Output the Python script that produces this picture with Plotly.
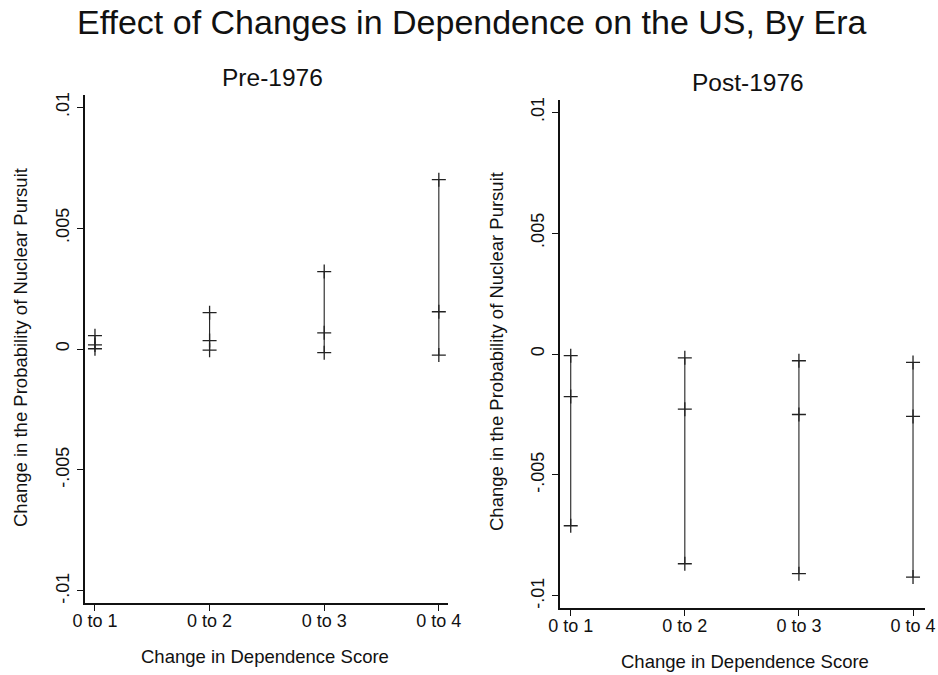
import plotly.graph_objects as go

categories = ["0 to 1", "0 to 2", "0 to 3", "0 to 4"]
x_pos = [1, 2, 3, 4]

pre_upper = [0.00055, 0.0015, 0.0032, 0.0070]
pre_mid = [0.00017, 0.00035, 0.00067, 0.00154]
pre_lower = [0.00001, -0.00005, -0.00015, -0.00025]

post_upper = [-0.00007, -0.00016, -0.00028, -0.00035]
post_mid = [-0.00176, -0.00228, -0.0025, -0.00258]
post_lower = [-0.0071, -0.00867, -0.00908, -0.00922]

y_tickvals = [-0.01, -0.005, 0, 0.005, 0.01]
y_ticktext = ["-.01", "-.005", "0", ".005", ".01"]

FONT = "Liberation Sans, Arial, Helvetica, sans-serif"
INK = "#111111"

fig = go.Figure()


def add_panel(upper, mid, lower, xa, ya):
    lx, ly = [], []
    for x, lo, hi in zip(x_pos, lower, upper):
        lx += [x, x, None]
        ly += [lo, hi, None]
    fig.add_trace(go.Scatter(x=lx, y=ly, mode="lines", xaxis=xa, yaxis=ya,
                             line=dict(color="#222222", width=1.1), showlegend=False,
                             hoverinfo="skip"))
    mx = x_pos * 3
    my = list(upper) + list(mid) + list(lower)
    fig.add_trace(go.Scatter(x=mx, y=my, mode="markers", xaxis=xa, yaxis=ya,
                             marker=dict(symbol="cross-thin", size=10,
                                         line=dict(color="#222222", width=1.3)),
                             showlegend=False))


add_panel(pre_upper, pre_mid, pre_lower, "x", "y")
add_panel(post_upper, post_mid, post_lower, "x2", "y2")

W, H = 938, 675

common_x = dict(tickvals=x_pos, ticktext=categories, showline=True, linecolor=INK,
                linewidth=1.5, ticks="outside", ticklen=6, tickcolor=INK,
                showgrid=False, zeroline=False, tickfont=dict(size=18, color=INK),
                fixedrange=True, automargin=False, ticklabelstandoff=-5)
common_y = dict(tickvals=y_tickvals, ticktext=y_ticktext, showline=True, linecolor=INK,
                linewidth=1.5, ticks="outside", ticklen=6, tickcolor=INK,
                showgrid=False, zeroline=False, tickangle=-90,
                tickfont=dict(size=18, color=INK), range=[-0.0105, 0.0105],
                fixedrange=True, automargin=False, ticklabelstandoff=1)

fig.update_layout(
    width=W, height=H,
    margin=dict(l=0, r=0, t=0, b=0, autoexpand=False),
    paper_bgcolor="white", plot_bgcolor="white",
    font=dict(family=FONT, color=INK),
    xaxis=dict(common_x, domain=[85 / W, 448 / W], range=[0.913, 4.08]),
    yaxis=dict(common_y, domain=[1 - 603 / H, 1 - 95 / H], anchor="x"),
    xaxis2=dict(common_x, domain=[560 / W, 925 / W], range=[0.906, 4.105], anchor="y2"),
    yaxis2=dict(common_y, domain=[1 - 608 / H, 1 - 100 / H], anchor="x2"),
)

anns = [
    dict(text="Effect of Changes in Dependence on the US, By Era", x=472.5 / W, y=1 - 22 / H,
         font=dict(size=34)),
    dict(text="Pre-1976", x=272 / W, y=1 - 78 / H, font=dict(size=24.5)),
    dict(text="Post-1976", x=747.5 / W, y=1 - 83 / H, font=dict(size=24.5)),
    dict(text="Change in Dependence Score", x=265 / W, y=1 - 656 / H, font=dict(size=18.5)),
    dict(text="Change in Dependence Score", x=745 / W, y=1 - 661 / H, font=dict(size=18.5)),
    dict(text="Change in the Probability of Nuclear Pursuit", x=20 / W, y=1 - 348 / H,
         textangle=-90, font=dict(size=18.5)),
    dict(text="Change in the Probability of Nuclear Pursuit", x=497 / W, y=1 - 352 / H,
         textangle=-90, font=dict(size=18.5)),
]
for a in anns:
    a.update(xref="paper", yref="paper", showarrow=False, xanchor="center", yanchor="middle")
    a["font"] = dict(a["font"], color=INK, family=FONT)
fig.update_layout(annotations=anns)

fig.write_html("out.html", config={"displayModeBar": False},
               post_script="document.body.style.margin='0';document.body.style.overflow='hidden';")
